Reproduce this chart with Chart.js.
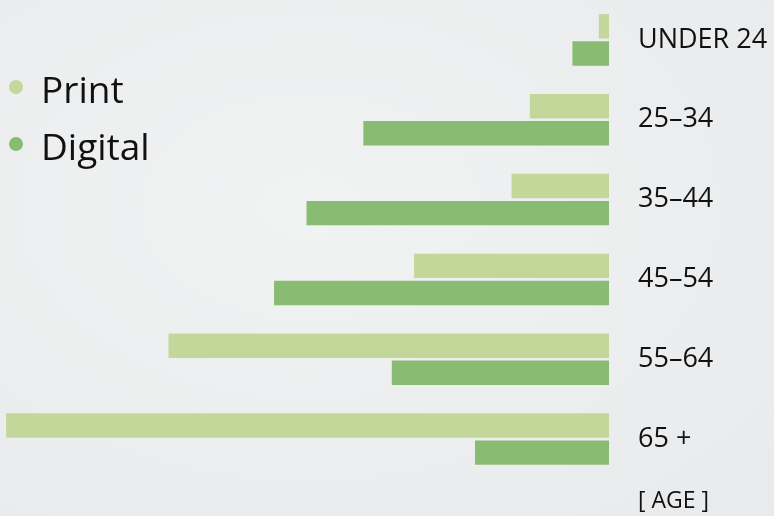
<!DOCTYPE html>
<html>
<head>
<meta charset="utf-8">
<script src="https://cdn.jsdelivr.net/npm/chart.js@4"></script>
<style>
  html, body { margin: 0; padding: 0; }
  body {
    width: 774px; height: 516px; overflow: hidden;
    background: radial-gradient(ellipse at 40% 40%, #f1f2f2 0%, #ecedee 60%, #e9eaeb 100%);
  }
  #wrap { position: relative; width: 774px; height: 516px; }
</style>
</head>
<body>
<div id="wrap"><canvas id="ageChart"></canvas></div>
<script>
// age groups, top to bottom
const categories = ['UNDER 24', '25–34', '35–44', '45–54', '55–64', '65 +'];
const printValues = [0.5, 3.9, 4.8, 9.6, 21.7, 29.7];
const digitalValues = [1.8, 12.1, 14.9, 16.5, 10.7, 6.6];
const axisLabel = '[ AGE ]';

const printColor = '#c4d79b';
const digitalColor = '#89bb73';

// legend top-left + axis caption under the labels
const extras = {
    id: 'extras',
    afterDraw(chart) {
        const c = chart.ctx;
        c.save();
        c.font = '37px "Open Sans"';
        c.textBaseline = 'alphabetic';
        c.textAlign = 'left';
        chart.data.datasets.forEach((ds, i) => {
            const base = 103 + i * 57;
            c.fillStyle = ds.backgroundColor;
            c.beginPath();
            c.arc(16, base - 16, 7, 0, Math.PI * 2);
            c.fill();
            c.fillStyle = '#111';
            c.fillText(ds.label, 41, base);
        });
        const y = chart.scales.y;
        c.font = '23px "Open Sans"';
        c.textBaseline = 'middle';
        c.fillStyle = '#111';
        c.fillText(axisLabel, y.left + 29, 501);
        c.restore();
    }
};

new Chart(document.getElementById('ageChart'), {
    type: 'bar',
    data: {
        labels: categories,
        datasets: [
            { label: 'Print', data: printValues, backgroundColor: printColor },
            { label: 'Digital', data: digitalValues, backgroundColor: digitalColor }
        ]
    },
    options: {
        indexAxis: 'y',
        responsive: true,
        maintainAspectRatio: false,
        animation: false,
        categoryPercentage: 0.68,
        barPercentage: 0.9,
        layout: { padding: { left: 0, right: 0, top: 0, bottom: 37 } },
        scales: {
            x: {
                display: false,
                reverse: true,
                min: 0,
                max: 30
            },
            y: {
                position: 'right',
                grid: { display: false, drawTicks: false },
                border: { display: false },
                ticks: {
                    color: '#111',
                    padding: 29,
                    font: { family: 'Open Sans', size: 27 }
                },
                afterFit(scale) {
                    scale.width = 165;
                    scale.paddingTop = 0;
                    scale.paddingBottom = 0;
                }
            }
        },
        plugins: {
            legend: { display: false },
            tooltip: { enabled: false }
        }
    },
    plugins: [extras]
});
</script>
</body>
</html>
